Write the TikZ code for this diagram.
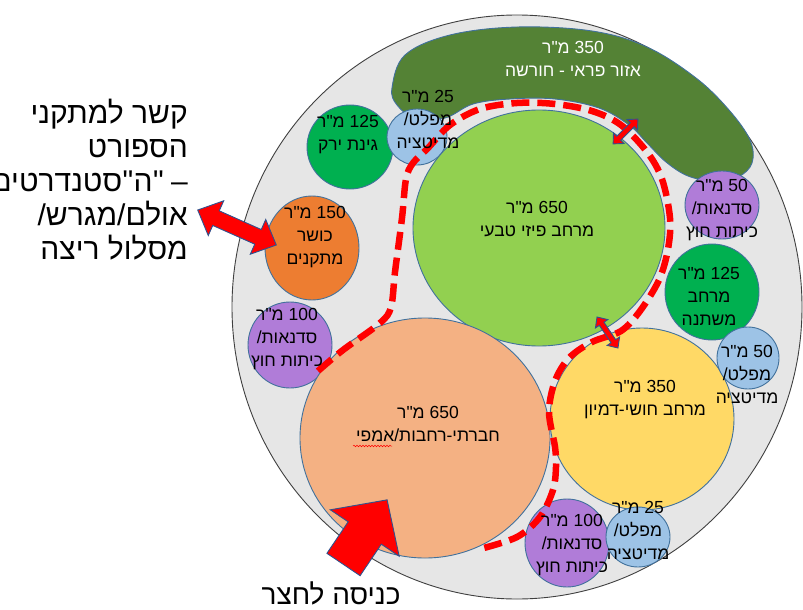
\documentclass[tikz,border=0pt]{standalone}
\usepackage{fontspec}
\setmainfont{Liberation Sans}
\newfontfamily\heb[Script=Hebrew]{Liberation Sans}
\TeXXeTstate=1
\usetikzlibrary{shapes.geometric,decorations.pathmorphing}
\definecolor{bgray}{HTML}{E6E6E6}
\definecolor{rimc}{HTML}{404040}
\definecolor{edgec}{HTML}{41719C}
\definecolor{forest}{HTML}{548235}
\definecolor{lgreen}{HTML}{92D050}
\definecolor{mgreen}{HTML}{00B050}
\definecolor{orng}{HTML}{ED7D31}
\definecolor{purp}{HTML}{B07CD8}
\definecolor{lblue}{HTML}{9DC3E6}
\definecolor{peach}{HTML}{F4B183}
\definecolor{yell}{HTML}{FFD966}
\definecolor{arrred}{HTML}{FF0000}
\definecolor{arredge}{HTML}{2F528F}
\newcommand\RL[1]{\beginR #1\endR}
\begin{document}
\begin{tikzpicture}[x=1pt,y=-1pt,
  zone/.style={ellipse, draw=edgec, line width=0.9pt, inner sep=0pt, outer sep=0pt},
  lbl/.style={align=center, inner sep=0pt, font=\heb\fontsize{17.5}{23}\selectfont},
  bigtxt/.style={inner sep=0pt, font=\heb\fontsize{30}{34}\selectfont},
  sportline/.style={bigtxt, anchor=base east},
  trail/.style={draw=arrred, line width=6.5pt, dash pattern=on 18pt off 8pt},
  blockarrow/.style={fill=arrred, draw=arredge, line width=0.9pt, line join=miter}]
\useasboundingbox (0,0) rectangle (803,610);
% outer court
\node[ellipse, draw=rimc, line width=0.9pt, fill=bgray, inner sep=0pt, minimum width=570pt, minimum height=584pt] (court) at (517,307) {};
% forest blob
\filldraw[fill=forest, draw=edgec, line width=0.9pt] plot[smooth cycle, tension=0.6] coordinates {(392,88) (405,55) (450,35) (517,27) (592,31) (647,47) (696,78) (729,110) (750,140) (752,163) (738,177) (714,181) (688,176) (666,162) (647,143) (629,125) (599,108) (555,99) (510,99) (473,104) (445,118) (415,118) (397,105)};
% zones
\node[zone, fill=mgreen, minimum width=86pt, minimum height=84pt] (ginat) at (350,147) {};
\node[zone, fill=lblue, minimum width=60pt, minimum height=56pt] (bluetop) at (417,137) {};
\node[zone, fill=orng, minimum width=94pt, minimum height=104pt] (fitness) at (312,248) {};
\node[zone, fill=purp, minimum width=84pt, minimum height=86pt] (purpL) at (290,345) {};
\node[zone, fill=lgreen, minimum width=252pt, minimum height=236pt] (physical) at (539,228) {};
\node[zone, fill=peach, minimum width=250pt, minimum height=240pt] (social) at (425,438) {};
\node[zone, fill=purp, minimum width=74pt, minimum height=68pt] (purpTR) at (722,205) {};
\node[zone, fill=mgreen, minimum width=94pt, minimum height=96pt] (variable) at (712,292) {};
\node[zone, fill=yell, minimum width=184pt, minimum height=182pt] (sensory) at (642,419) {};
\node[zone, fill=lblue, minimum width=62pt, minimum height=62pt] (blueR) at (748,358) {};
\node[zone, fill=purp, minimum width=84pt, minimum height=88pt] (purpB) at (567,543) {};
\node[zone, fill=lblue, minimum width=64pt, minimum height=60pt] (blueB) at (638,537) {};
% dashed trail
\draw[trail] plot[smooth, tension=0.55] coordinates {(318,371) (343,350) (380,323) (391,307) (395,272) (402,218) (406,179) (413,163) (428,148) (450,125) (480,109) (517,103) (555,104) (592,111) (621,125) (647,152) (662,179) (670,218) (668,249) (659,280) (640,311) (621,331) (592,342) (569,358) (555,381) (549,412) (555,447) (556,467) (553,490) (540,517) (517,537) (480,549)};
% small double arrows
\begin{scope}[shift={(625.5,131.5)}, rotate=45]
\draw[blockarrow] (-17.5,0) -- (-9.5,7.5) -- (-9.5,2.8) -- (9.5,2.8) -- (9.5,7.5) -- (17.5,0) -- (9.5,-7.5) -- (9.5,-2.8) -- (-9.5,-2.8) -- (-9.5,-7.5) -- cycle;
\end{scope}
\begin{scope}[shift={(607.5,332.5)}, rotate=-56]
\draw[blockarrow] (-18.7,0) -- (-10.5,7.5) -- (-10.5,2.8) -- (10.5,2.8) -- (10.5,7.5) -- (18.7,0) -- (10.5,-7.5) -- (10.5,-2.8) -- (-10.5,-2.8) -- (-10.5,-7.5) -- cycle;
\end{scope}
% big double arrow to fitness
\begin{scope}[shift={(237,227.5)}, rotate=-24]
\draw[blockarrow] (-43,0) -- (-23,19) -- (-23,8) -- (23,8) -- (23,19) -- (43,0) -- (23,-19) -- (23,-8) -- (-23,-8) -- (-23,-19) -- cycle;
\end{scope}
% entry arrow
\begin{scope}[shift={(343.5,564.5)}, rotate=56]
\draw[blockarrow] (0,20) -- (38,20) -- (38,41.5) -- (78,0) -- (38,-41.5) -- (38,-20) -- (0,-20) -- cycle;
\end{scope}
% labels
\node[lbl, text=white] (tblob) at (573,58.5) {\RL{350 מ"ר}\\\RL{אזור פראי - חורשה}};
\node[lbl] (tbluetop) at (428,119) {\RL{25 מ"ר}\\\RL{מפלט/}\\\RL{מדיטציה}};
\node[lbl] (tginat) at (348,134.5) {\RL{125 מ"ר}\\\RL{גינת ירק}};
\node[lbl] (tfitness) at (315,237.5) {\RL{150 מ"ר}\\\RL{כושר}\\\RL{מתקנים}};
\node[lbl] (tpurpL) at (287,339) {\RL{100 מ"ר}\\\RL{סדנאות/}\\\RL{כיתות חוץ}};
\node[lbl] (tphysical) at (537,219.5) {\RL{650 מ"ר}\\\RL{מרחב פיזי טבעי}};
\node[lbl] (tsocial) at (428,423.5) {\RL{650 מ"ר}\\\RL{חברתי-רחבות/אמפי}};
\node[lbl] (tsensory) at (645,399.5) {\RL{350 מ"ר}\\\RL{מרחב חושי-דמיון}};
\node[lbl] (tpurpTR) at (722,210) {\RL{50 מ"ר}\\\RL{סדנאות/}\\\RL{כיתות חוץ}};
\node[lbl] (tvariable) at (709,296) {\RL{125 מ"ר}\\\RL{מרחב}\\\RL{משתנה}};
\node[lbl] (tblueR) at (747,374) {\RL{50 מ"ר}\\\RL{מפלט/}\\\RL{מדיטציה}};
\node[lbl] (tpurpB) at (572,545) {\RL{100 מ"ר}\\\RL{סדנאות/}\\\RL{כיתות חוץ}};
\node[lbl] (tblueB) at (638,530) {\RL{25 מ"ר}\\\RL{מפלט/}\\\RL{מדיטציה}};
\draw[arrred, line width=0.5pt, decorate, decoration={snake, amplitude=0.8pt, segment length=3pt}] (353,446) -- (392,446);
% sports text
\node[sportline] (sport1) at (188,123) {\RL{קשר למתקני}};
\node[sportline] (sport2) at (188,157) {\RL{הספורט}};
\node[sportline] (sport3d) at (188,191) {–};
\node[sportline] (sport3q2) at ([xshift=-7pt]sport3d.base west) {"};
\node[sportline] (sport3h) at (sport3q2.base west) {ה};
\node[sportline] (sport3q1) at (sport3h.base west) {"};
\node[sportline] (sport3w) at (sport3q1.base west) {סטנדרטים};
\node[sportline] (sport4) at (188,225) {\RL{אולם/מגרש/}};
\node[sportline] (sport5) at (188,259) {\RL{מסלול ריצה}};
\node[bigtxt, font=\heb\fontsize{28}{32}\selectfont] (entry) at (331,593) {\RL{כניסה לחצר}};
\end{tikzpicture}
\end{document}
